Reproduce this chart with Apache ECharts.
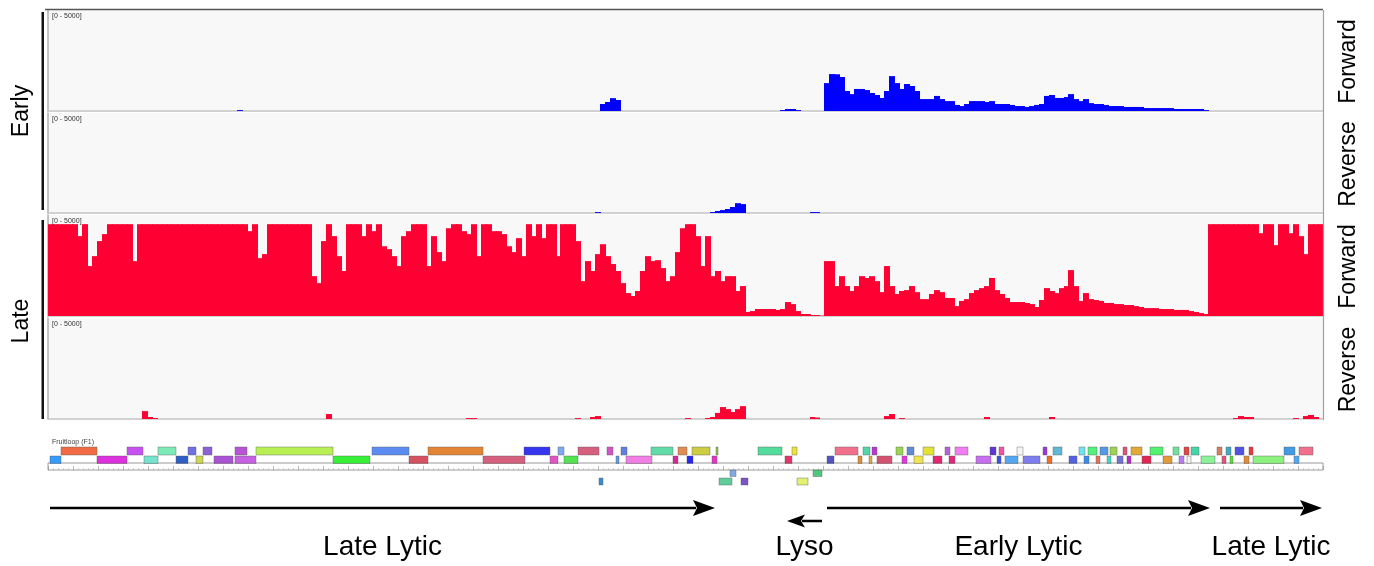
<!DOCTYPE html>
<html><head><meta charset="utf-8">
<script src="https://cdn.jsdelivr.net/npm/echarts@6/dist/echarts.min.js"></script>
<style>html,body{margin:0;padding:0;background:#fff}#c{width:1374px;height:566px}</style>
</head><body><div id="c"></div>
<script>
// ---------------- DATA ----------------
// coverage bins along the genome (256 bins)
const NBINS = 256;
const binLabels = Array.from({length: NBINS}, (_, i) => 'bin' + i);
const trackRange = '[0 - 5000]';

// Early, forward strand: sparse [bin, depth]
const earlyForward = [[38,50],[111,380],[112,490],[113,700],[114,600],[147,50],[148,110],[149,110],[150,50],
 [156,1520],[157,2010],[158,2000],[159,1850],[160,1090],[161,920],[162,1200],[163,1200],[164,1140],[165,980],
 [166,870],[167,710],[168,1090],[169,1900],[170,1520],[171,1200],[172,1470],[173,1360],[174,1090],[175,650],
 [176,650],[177,650],[178,820],[179,650],[180,540],[181,540],[182,330],[183,270],[184,380],[185,540],[186,540],
 [187,540],[188,490],[189,540],[190,380],[191,380],[192,380],[193,330],[194,270],[195,270],[196,220],[197,270],
 [198,330],[199,380],[200,820],[201,870],[202,710],[203,710],[204,760],[205,920],[206,650],[207,540],[208,650],
 [209,430],[210,380],[211,380],[212,330],[213,270],[214,270],[215,270],[216,220],[217,220],[218,220],[219,220],
 [220,160],[221,160],[222,160],[223,160],[224,160],[225,160],[226,110],[227,110],[228,110],[229,110],[230,110],
 [231,110],[232,50]];

// Early, reverse strand
const earlyReverse = [[110,50],[133,50],[134,110],[135,160],[136,220],[137,330],[138,540],[139,490],[153,50],[154,50]];

// Late, forward strand (full, clipped at 5000)
const lateForward = [
 5000,5000,5000,5000,5000,5000,4350,5000,2720,3260,
 4080,4460,5000,5000,5000,5000,5000,2990,5000,5000,
 5000,5000,5000,5000,5000,5000,5000,5000,5000,5000,
 5000,5000,5000,5000,5000,5000,5000,5000,5000,5000,
 4620,5000,3150,3370,5000,5000,5000,5000,5000,5000,
 5000,5000,5000,2170,1790,4080,5000,4350,3260,2450,
 5000,5000,5000,4350,5000,4620,5000,3800,3640,3260,
 2720,4350,4620,5000,5000,5000,2720,4350,3480,2990,
 4780,5000,5000,4620,4460,5000,3260,5000,5000,4620,
 4620,4460,3800,3480,4240,3260,5000,4350,5000,4240,
 5000,5000,3260,5000,5000,5000,4080,1900,2990,2450,
 3370,3910,3260,2830,2450,1790,1250,1090,1360,2450,
 3260,2990,3040,2610,1900,2170,3480,4780,5000,5000,
 4350,2720,4350,2170,2450,1900,2170,2170,1360,1630,
 220,270,380,380,380,380,330,380,760,650,
 270,110,110,50,50,20,2990,2990,1630,2170,
 1630,1360,1630,2170,2070,2170,1900,1300,2720,1630,
 1200,1360,1410,1630,1300,920,920,1200,1410,1300,
 980,980,540,820,920,1250,1410,1520,1630,2070,
 1410,1200,980,760,760,760,710,650,490,870,
 1520,1360,1250,1520,1630,2500,1630,820,1250,920,
 870,820,710,710,650,650,600,600,540,490,
 430,430,430,380,380,380,330,330,330,270,
 220,160,110,5000,5000,5000,5000,5000,5000,5000,
 5000,5000,5000,4510,5000,5000,3860,5000,5000,4510,
 5000,4350,3370,5000,5000,5000];

// Late, reverse strand
const lateReverse = [[19,430],[20,110],[21,50],[56,270],[84,50],[85,50],[106,50],[109,110],[110,160],[128,50],
 [132,50],[133,110],[134,330],[135,650],[136,540],[137,380],[138,540],[139,700],[153,110],[154,80],[168,160],
 [169,270],[171,50],[188,110],[201,110],[238,50],[239,160],[240,110],[241,110],[250,50],[252,160],[253,220],[254,110]];

// Genome units: 0..1275 across the track width
const GENOME_MAX = 1275;
// genes: [start, end, row]  (row 0 upper, 1 lower, 2/3 below ruler)
const genes = [
 [13,49,0],[79,95,0],[110,128,0],[140,148,0],[155,164,0],[187,199,0],[208,285,0],[324,361,0],[380,435,0],[476,502,0],
 [510,516,0],[530,551,0],[559,565,0],[573,579,0],[603,625,0],[630,639,0],[644,662,0],[668,670,0],[710,734,0],[744,749,0],
 [787,810,0],[815,822,0],[824,829,0],[848,855,0],[859,866,0],[875,886,0],[897,902,0],[907,920,0],[942,948,0],[951,956,0],
 [969,975,0],[995,999,0],[1005,1014,0],[1031,1037,0],[1040,1049,0],[1052,1060,0],[1062,1069,0],[1075,1079,0],[1083,1094,0],[1102,1115,0],
 [1125,1131,0],[1136,1141,0],[1143,1151,0],[1169,1174,0],[1178,1183,0],[1187,1196,0],[1201,1205,0],[1236,1247,0],[1251,1265,0],
 [2,13,1],[49,79,1],[96,110,1],[128,140,1],[148,155,1],[166,185,1],[187,208,1],[285,322,1],[361,380,1],[435,477,1],
 [502,510,1],[516,530,1],[568,571,1],[578,604,1],[625,630,1],[639,645,1],[664,669,1],[737,744,1],[779,786,1],[810,814,1],
 [821,824,1],[829,844,1],[854,859,1],[866,875,1],[885,894,1],[901,907,1],[928,943,1],[949,953,1],[957,970,1],[975,992,1],
 [999,1004,1],[1021,1029,1],[1036,1041,1],[1048,1052,1],[1059,1063,1],[1069,1075,1],[1079,1083,1],[1094,1103,1],[1115,1124,1],[1131,1136,1],
 [1139,1143,1],[1153,1167,1],[1174,1178,1],[1182,1185,1],[1196,1201,1],[1205,1236,1],[1246,1251,1],
 [682,688,2],[765,774,2],
 [551,555,3],[671,684,3],[693,700,3],[749,760,3]
];
// transcription regions: [start, end, level]
const regionNames = ['Late Lytic','Lyso','Early Lytic','Late Lytic'];
const regions = [[2,667,0],[774,739,1],[779,1162,0],[1172,1274,0]];

// ---------------- STYLES ----------------
const geneColors = [
 '#f05a30','#c040f0','#70e8b0','#6060e0','#8050d0','#b040d0','#b0ee40','#4a80f0','#e07820','#2020f0',
 '#70a0f0','#d05070','#d040c0','#5070e0','#50d8a0','#e08040','#c8c830','#80c030','#40d890','#f0e020',
 '#f06080','#40d0a0','#b020d0','#90d040','#5080d0','#e0e020','#b050d0','#f070f0','#5020d0','#f040a0',
 '#f4f4f4','#9020e0','#50b0d0','#60e0f0','#40f070','#4090e0','#90d040','#e04060','#e0a020','#40f060',
 '#60e090','#e03030','#30d0a0','#d07050','#30a0c0','#4040e0','#f02020','#3090e0','#f06080',
 '#1e90ff','#d81bd8','#66e0c8','#1a4fc0','#c8d040','#a040d0','#c050e0','#22ee22','#d04050','#d05070',
 '#e040c0','#40e040','#5090e0','#f070e0','#d01090','#1010f0','#e020c0','#e0205a','#4040c0','#e08020',
 '#e0a020','#d04060','#e020e0','#f0e040','#e01060','#e01070','#c060f0','#2040e0','#40a0f0','#7070f0',
 '#f06010','#4050e0','#2080f0','#e06050','#30d0c0','#6060d0','#b010d0','#e01040','#e09020','#b070f0',
 '#eeeeee','#80f090','#e04070','#40e020','#e08020','#80f070','#40a0f0',
 '#70a0e0','#40c070',
 '#2080d0','#50c890','#7040c0','#e0f060'
];
const rowY = [[7,15],[16,23.5],[30,36.5],[38,45]];
const FONT = "'Liberation Sans', Arial, Helvetica, sans-serif";
const L = 48, R = 51;
const panels = [{top:10,h:101},{top:113,h:100},{top:215,h:101},{top:318,h:101}];
const BLUE = '#0000ff', RED = '#ff0033';

const grids = [], xAxes = [], yAxes = [], series = [];
panels.forEach((p, i) => {
  grids.push({left:L, right:R, top:p.top, height:p.h, show:true, backgroundColor:'#f8f8f8', borderWidth:0});
  xAxes.push({type:'category', gridIndex:i, data:binLabels, boundaryGap:true,
    axisLine:{show:true, lineStyle:{color:'#c4c4c4', width:1.5}}, axisTick:{show:false}, axisLabel:{show:false}});
  yAxes.push({type:'value', gridIndex:i, min:0, max:5500,
    axisLine:{show:true, lineStyle:{color:'#b0b0b0', width:1.5}}, axisTick:{show:false}, axisLabel:{show:false}, splitLine:{show:false}});
});
const covData = [earlyForward, earlyReverse, lateForward.map((v, i) => [i, v]), lateReverse];
const covColor = [BLUE, BLUE, RED, RED];
covData.forEach((d, i) => {
  series.push({type:'custom', xAxisIndex:i, yAxisIndex:i, data:d, encode:{x:0, y:1}, silent:true, z:2,
    renderItem: function(params, api){
      const top = api.coord([api.value(0), api.value(1)]);
      const base = api.coord([api.value(0), 0]);
      const w = api.size([1, 0])[0];
      const x0 = Math.floor(top[0] - w/2), x1 = Math.ceil(top[0] + w/2);
      return {type:'rect', shape:{x:x0, y:top[1], width:x1 - x0, height:base[1] - top[1]},
        style:{fill:covColor[i]}};
    }});
});

// gene grid (index 4)
grids.push({left:L, right:R, top:440, height:50});
xAxes.push({type:'value', gridIndex:4, min:0, max:GENOME_MAX, show:false});
yAxes.push({type:'value', gridIndex:4, min:0, max:50, inverse:true, show:false});
series.push({type:'custom', xAxisIndex:4, yAxisIndex:4, data:genes, encode:{x:[0,1]}, silent:true,
  renderItem: function(params, api){
    const r = api.value(2);
    const a = api.coord([api.value(0), rowY[r][0]]);
    const b = api.coord([api.value(1), rowY[r][1]]);
    return {type:'rect', shape:{x:a[0], y:a[1], width:Math.max(2, b[0]-a[0]), height:b[1]-a[1]},
      style:{fill:geneColors[params.dataIndex], stroke:'rgba(90,90,90,0.55)', lineWidth:0.8, opacity:0.9}};
  }});

// ruler grid (index 5)
grids.push({left:L, right:R, top:463, height:7, show:true, backgroundColor:'#ffffff', borderColor:'#9a9a9a', borderWidth:1});
xAxes.push({type:'value', gridIndex:5, min:0, max:GENOME_MAX, interval:25, position:'bottom',
  axisLine:{show:false}, axisTick:{show:true, inside:true, length:4, lineStyle:{color:'#888', width:0.6}},
  minorTick:{show:true, splitNumber:5, length:2, lineStyle:{color:'#aaa', width:0.5}},
  axisLabel:{show:false}, splitLine:{show:false}});
yAxes.push({type:'value', gridIndex:5, min:0, max:1, show:false});

// arrow grid (index 6)
grids.push({left:L, right:R, top:495, height:60});
xAxes.push({type:'value', gridIndex:6, min:0, max:GENOME_MAX, show:false});
yAxes.push({type:'value', gridIndex:6, min:0, max:60, inverse:true, show:false});
const arrowY = [13, 26], labelY = 52;
series.push({type:'custom', xAxisIndex:6, yAxisIndex:6, data:regions, encode:{x:[0,1]}, silent:true,
  renderItem: function(params, api){
    const lv = api.value(2);
    const s = api.coord([api.value(0), arrowY[lv]]);
    const e = api.coord([api.value(1), arrowY[lv]]);
    const dir = e[0] > s[0] ? 1 : -1;
    const hl = lv === 0 ? 22 : 18, hh = lv === 0 ? 8 : 6.5;
    const bx = e[0] - dir*hl;
    const mid = api.coord([(api.value(0)+api.value(1))/2, labelY]);
    return {type:'group', children:[
      {type:'line', shape:{x1:s[0], y1:s[1], x2:bx + dir*3, y2:e[1]}, style:{stroke:'#000', lineWidth:2.5}},
      {type:'polygon', shape:{points:[[e[0], e[1]], [bx, e[1]-hh], [bx + dir*4, e[1]], [bx, e[1]+hh]]}, style:{fill:'#000'}},
      {type:'text', x:mid[0], y:mid[1], style:{text:regionNames[params.dataIndex], fontSize:28, fontFamily:FONT, fill:'#000', align:'center', verticalAlign:'middle'}}
    ]};
  }});

// ---------------- ANNOTATIONS ----------------
const graphic = [
  {type:'line', shape:{x1:45, y1:9.5, x2:1323, y2:9.5}, style:{stroke:'#555', lineWidth:1.6}, z:100},
  {type:'line', shape:{x1:1323.5, y1:10, x2:1323.5, y2:420}, style:{stroke:'#a0a0a0', lineWidth:1.2}, z:100},
  {type:'rect', shape:{x:41.5, y:12, width:2.5, height:198}, style:{fill:'#111'}},
  {type:'rect', shape:{x:41.5, y:220, width:2.5, height:199}, style:{fill:'#111'}},
  {type:'text', x:22, y:111, rotation:Math.PI/2, style:{text:'Early', fontSize:23, fontFamily:FONT, fill:'#000', align:'center', verticalAlign:'middle'}},
  {type:'text', x:22, y:321, rotation:Math.PI/2, style:{text:'Late', fontSize:23, fontFamily:FONT, fill:'#000', align:'center', verticalAlign:'middle'}},
  {type:'text', x:52, y:446, style:{text:'Fruitloop (F1)', fontSize:7, fontFamily:FONT, fill:'#444', verticalAlign:'bottom'}}
];
const sideNames = ['Forward','Reverse','Forward','Reverse'];
panels.forEach((p, i) => {
  graphic.push({type:'text', x:52, y:p.top + 3, z:100, style:{text:trackRange, fontSize:7, fontFamily:FONT, fill:'#333'}});
  graphic.push({type:'text', x:1349, y:p.top + p.h/2 + 1, rotation:Math.PI/2,
    style:{text:sideNames[i], fontSize:23, fontFamily:FONT, fill:'#000', align:'center', verticalAlign:'middle'}});
});

const chart = echarts.init(document.getElementById('c'), null, {renderer:'canvas'});
chart.setOption({animation:false, backgroundColor:'#ffffff', grid:grids, xAxis:xAxes, yAxis:yAxes, series:series, graphic:graphic});
</script></body></html>
